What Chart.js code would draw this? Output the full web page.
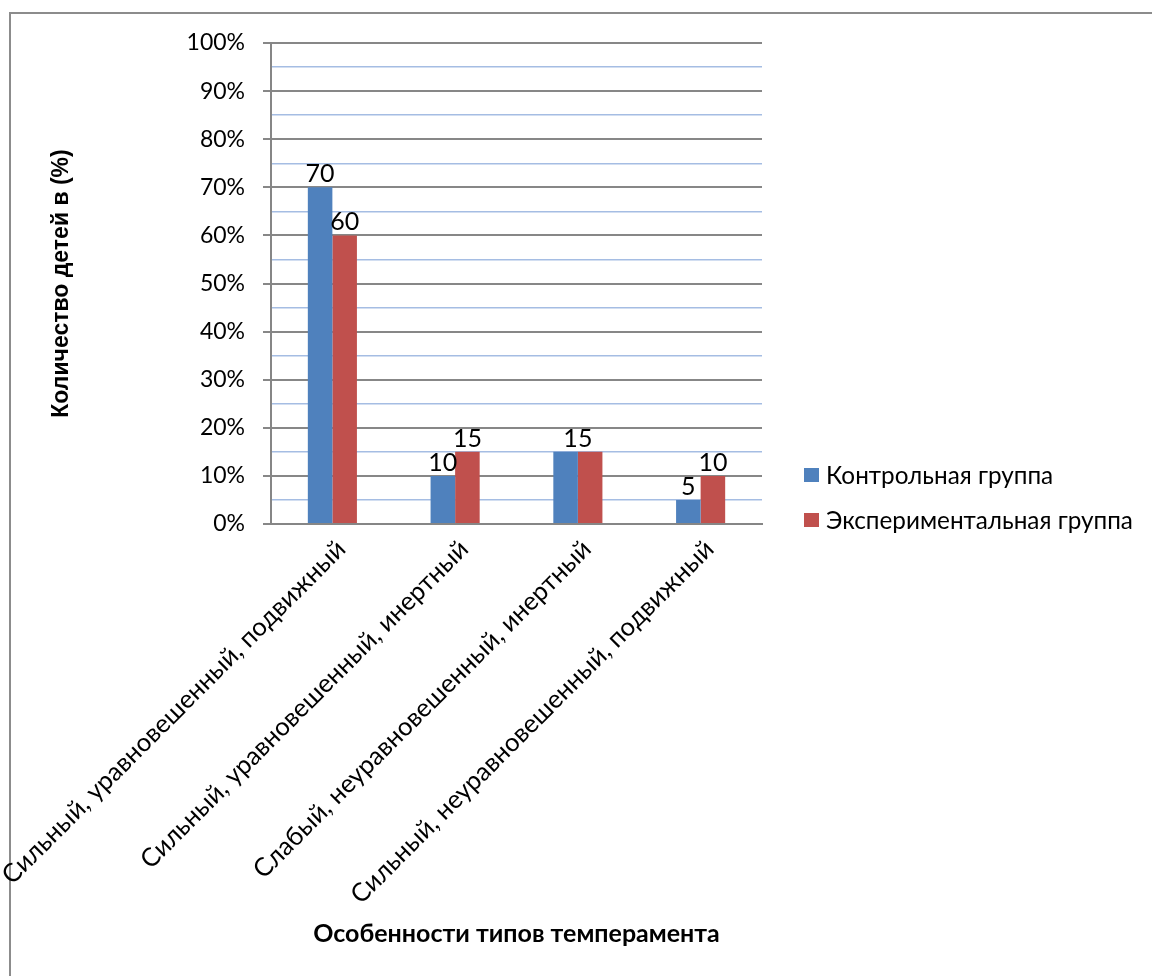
<!DOCTYPE html>
<html>
<head>
<meta charset="utf-8">
<script src="https://cdn.jsdelivr.net/npm/chart.js@4.4.0/dist/chart.umd.min.js"></script>
<style>
  html, body { margin: 0; padding: 0; background: #fff; }
  #wrap { position: relative; width: 1152px; height: 976px; overflow: hidden; }
  #frame { position: absolute; left: 9px; top: 12px; width: 1300px; height: 1100px;
           border-left: 2px solid #8c8c8c; border-top: 2px solid #8c8c8c; box-sizing: border-box; }
  #c { position: absolute; left: 0; top: 0; }
</style>
</head>
<body>
<div id="wrap">
  <div id="frame"></div>
  <canvas id="c" width="1152" height="976"></canvas>
</div>
<script>
// ---- data ----
const categories = [
  'Сильный, уравновешенный, подвижный',
  'Сильный, уравновешенный, инертный',
  'Слабый, неуравновешенный, инертный',
  'Сильный, неуравновешенный, подвижный'
];
const seriesNames = ['Контрольная группа', 'Экспериментальная группа'];
const seriesColors = ['#4F81BD', '#C0504D'];
const controlValues = [70, 10, 15, 5];
const experimentalValues = [60, 15, 15, 10];
const yTickValues = [0, 10, 20, 30, 40, 50, 60, 70, 80, 90, 100];
const yAxisTitle = 'Количество детей в (%)';
const xAxisTitle = 'Особенности типов темперамента';

// ---- styling ----
const CAL = 'Lato, "Open Sans", "Noto Sans", sans-serif';

// legend font sized so the longer entry spans about the same width as the original
const mctx = document.createElement('canvas').getContext('2d');
mctx.font = '22px ' + CAL;
const longest = Math.max(...seriesNames.map(s => mctx.measureText(s).width));
const legendFontSize = Math.max(18, Math.min(26, 22 * 307 / longest));

const valueLabels = {
  id: 'valueLabels',
  afterDatasetsDraw(chart) {
    const ctx = chart.ctx;
    const m0 = chart.getDatasetMeta(0), m1 = chart.getDatasetMeta(1);
    ctx.save();
    ctx.font = '25px ' + CAL;
    ctx.fillStyle = '#000';
    ctx.textAlign = 'center';
    ctx.textBaseline = 'alphabetic';
    categories.forEach((c, i) => {
      const a = m0.data[i], b = m1.data[i];
      if (controlValues[i] === experimentalValues[i]) {
        ctx.fillText(String(controlValues[i]), (a.x + b.x) / 2, Math.min(a.y, b.y) - 5);
      } else {
        ctx.fillText(String(controlValues[i]), a.x, a.y - 5);
        ctx.fillText(String(experimentalValues[i]), b.x, b.y - 5);
      }
    });
    ctx.restore();
  }
};

const sideLegend = {
  id: 'sideLegend',
  afterDraw(chart) {
    const ctx = chart.ctx;
    const area = chart.chartArea;
    const boxX = area.right + 42;
    const firstY = 475, step = 45;
    ctx.save();
    ctx.font = legendFontSize + 'px ' + CAL;
    ctx.textBaseline = 'middle';
    ctx.textAlign = 'left';
    chart.data.datasets.forEach((ds, i) => {
      const cy = firstY + i * step;
      ctx.fillStyle = ds.backgroundColor;
      ctx.fillRect(boxX, cy - 7, 15, 14);
      ctx.fillStyle = '#000';
      ctx.fillText(ds.label, boxX + 22, cy + 1);
    });
    ctx.restore();
  }
};

new Chart(document.getElementById('c'), {
  type: 'bar',
  data: {
    labels: categories,
    datasets: [
      { label: seriesNames[0], data: controlValues, backgroundColor: seriesColors[0] },
      { label: seriesNames[1], data: experimentalValues, backgroundColor: seriesColors[1] }
    ]
  },
  options: {
    responsive: false,
    animation: false,
    devicePixelRatio: 1,
    datasets: { bar: { categoryPercentage: 0.4, barPercentage: 1.0 } },
    layout: { padding: { left: 10, right: 390, top: 43, bottom: 24 } },
    plugins: {
      tooltip: { enabled: false },
      legend: { display: false }
    },
    scales: {
      x: {
        grid: { display: false, drawTicks: false },
        border: { display: true, color: '#868686', width: 2 },
        ticks: {
          autoSkip: false, minRotation: 45, maxRotation: 45,
          padding: 10, labelOffset: 9, color: '#000',
          font: { family: CAL, size: 25.5 }
        },
        title: {
          display: true, text: xAxisTitle, color: '#000',
          font: { family: CAL, size: 25, weight: 'bold' },
          padding: { top: 0, bottom: 3 }
        },
        afterFit(s) { s.height = 976 - 24 - 524; s.paddingLeft = 0; s.paddingRight = 0; }
      },
      y: {
        min: 0, max: 100,
        afterBuildTicks(s) {
          const t = [];
          yTickValues.forEach((v, i) => {
            t.push({ value: v });
            if (i < yTickValues.length - 1) t.push({ value: (v + yTickValues[i + 1]) / 2 });
          });
          s.ticks = t;
        },
        grid: {
          color: c => (yTickValues.includes(c.tick.value) ? '#878787' : '#A5BDE3'),
          lineWidth: c => (yTickValues.includes(c.tick.value) ? 2 : 1.5),
          tickColor: c => (yTickValues.includes(c.tick.value) ? '#878787' : 'rgba(0,0,0,0)'),
          tickLength: 8,
          drawTicks: true
        },
        border: { display: true, color: '#868686', width: 2 },
        ticks: {
          autoSkip: false,
          padding: 18, color: '#000',
          font: { family: CAL, size: 23 },
          callback: v => (yTickValues.includes(v) ? v + '%' : '')
        },
        title: {
          display: true, text: yAxisTitle, color: '#000',
          font: { family: '"Liberation Sans", Arial, sans-serif', size: 23, weight: 'bold' },
          padding: { top: 38, bottom: 0 }
        },
        afterFit(s) { s.width = 261; s.paddingTop = 0; s.paddingBottom = 0; }
      }
    }
  },
  plugins: [valueLabels, sideLegend]
});
</script>
</body>
</html>
